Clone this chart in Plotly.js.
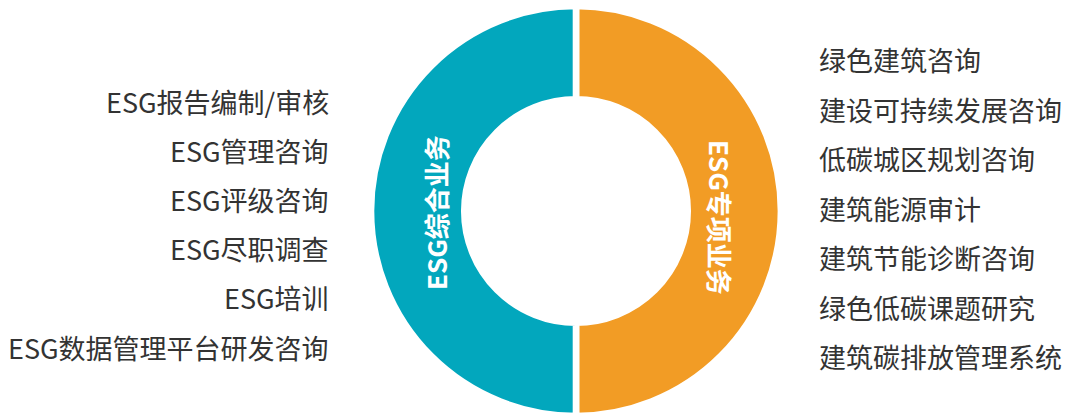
<!DOCTYPE html>
<html>
<head>
<meta charset="utf-8">
<script src="https://cdn.plot.ly/plotly-3.0.1.min.js"></script>
<style>
html,body{margin:0;padding:0;background:#fff;}
#chart{width:1067px;height:418px;}
</style>
</head>
<body>
<div id="chart"></div>
<script>
// Data
var segments = ['ESG专项业务', 'ESG综合业务'];
var segmentValues = [1, 1];
var segmentColors = ['#f29c25', '#02a7bd'];
var leftItems = ['ESG报告编制/审核', 'ESG管理咨询', 'ESG评级咨询', 'ESG尽职调查', 'ESG培训', 'ESG数据管理平台研发咨询'];
var rightItems = ['绿色建筑咨询', '建设可持续发展咨询', '低碳城区规划咨询', '建筑能源审计', '建筑节能诊断咨询', '绿色低碳课题研究', '建筑碳排放管理系统'];

var W = 1067, H = 418;
var cx = 576, cy = 211, R = 205;
var FONT = '"Noto Sans CJK SC", "Noto Sans", sans-serif';

var trace = {
  type: 'pie',
  labels: segments,
  values: segmentValues,
  sort: false,
  direction: 'clockwise',
  rotation: 0,
  hole: 0.545,
  textinfo: 'none',
  hoverinfo: 'none',
  showlegend: false,
  marker: { colors: segmentColors, line: { color: '#ffffff', width: 6.6 } },
  domain: {
    x: [(cx - R) / W, (cx + R) / W],
    y: [(H - cy - R) / H, (H - cy + R) / H]
  }
};

var annotations = [];
var leftY0 = 101, leftStep = 49.2;
leftItems.forEach(function (t, i) {
  annotations.push({
    text: t, xref: 'paper', yref: 'paper',
    x: 331 / W, y: 1 - (leftY0 + i * leftStep) / H,
    xanchor: 'right', yanchor: 'middle', showarrow: false,
    font: { family: FONT, size: 27, color: '#333333' }
  });
});
var rightY0 = 60, rightStep = 49.4;
rightItems.forEach(function (t, i) {
  annotations.push({
    text: t, xref: 'paper', yref: 'paper',
    x: 817 / W, y: 1 - (rightY0 + i * rightStep) / H,
    xanchor: 'left', yanchor: 'middle', showarrow: false,
    font: { family: FONT, size: 27, color: '#333333' }
  });
});
// Ring labels
annotations.push({
  text: '<b>' + segments[1] + '</b>', xref: 'paper', yref: 'paper',
  x: 435 / W, y: 1 - 213 / H, xanchor: 'center', yanchor: 'middle',
  textangle: -90, showarrow: false,
  font: { family: FONT, size: 26, color: '#ffffff' }
});
annotations.push({
  text: '<b>' + segments[0] + '</b>', xref: 'paper', yref: 'paper',
  x: 721 / W, y: 1 - 217 / H, xanchor: 'center', yanchor: 'middle',
  textangle: 90, showarrow: false,
  font: { family: FONT, size: 26, color: '#ffffff' }
});

var layout = {
  width: W, height: H,
  margin: { l: 0, r: 0, t: 0, b: 0 },
  paper_bgcolor: '#ffffff',
  plot_bgcolor: '#ffffff',
  showlegend: false,
  annotations: annotations
};

Plotly.newPlot('chart', [trace], layout, { staticPlot: true, displayModeBar: false });
</script>
</body>
</html>
